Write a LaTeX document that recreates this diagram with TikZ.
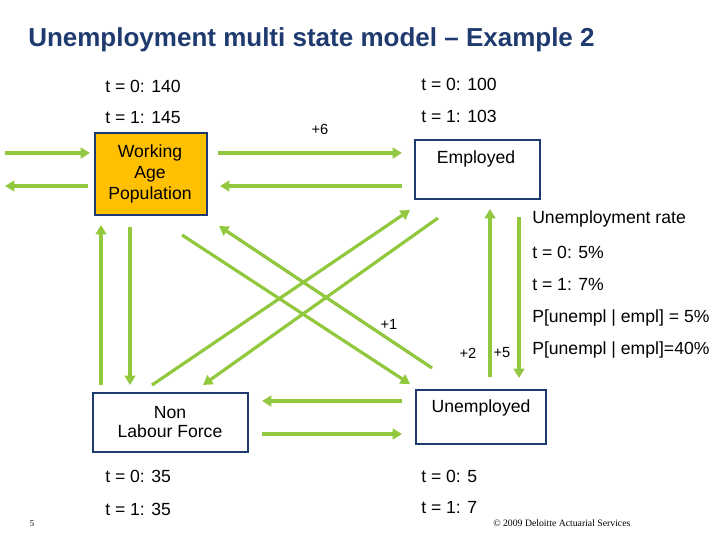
\documentclass[tikz,border=0pt]{standalone}
\usepackage{fontspec}
\setmainfont{Liberation Sans}
\newfontfamily\serifit{Liberation Serif}
\usetikzlibrary{arrows.meta}
\definecolor{navy}{HTML}{1F3A6E}
\definecolor{grn}{HTML}{92C83E}
\definecolor{orng}{HTML}{FFC000}
\begin{document}
\begin{tikzpicture}[x=0.75pt,y=-0.75pt,
  box/.style={draw=navy,line width=2pt},
  arr/.style={draw=grn,line width=2.4pt,-{Triangle[length=7pt,width=8pt]}},
  txt/.style={font=\fontsize{13.2}{15}\selectfont,anchor=west,inner sep=0pt},
  lbl/.style={font=\fontsize{13.2}{15}\selectfont,inner sep=0pt}]
\useasboundingbox (0,0) rectangle (720,540);
\node[anchor=west,inner sep=0pt,text=navy,font=\fontsize{19.5}{22}\bfseries\selectfont] (title) at (28,40) {Unemployment multi state model -- Example 2};
% boxes
\draw[box,fill=orng] (95,133) rectangle (207,215);
\node[lbl,align=center,font=\fontsize{13.2}{11}\selectfont] (wap) at (150,174) {Working\\[3pt]Age\\[3pt]Population};
\draw[box] (415,140) rectangle (540,199);
\node[lbl] (emp) at (476,159) {Employed};
\draw[box] (93,393) rectangle (248,452);
\node[lbl,align=center,font=\fontsize{13.2}{11}\selectfont] (nlf) at (170,422) {Non\\[3pt]Labour Force};
\draw[box] (416,390) rectangle (546,444);
\node[lbl] (une) at (481,408) {Unemployed};
% coordinates
\coordinate (a1) at (5,153); \coordinate (a2) at (90,153);
\coordinate (b1) at (88,186); \coordinate (b2) at (5,186);
\coordinate (c1) at (218,153); \coordinate (c2) at (402,153);
\coordinate (d1) at (402,186); \coordinate (d2) at (220,186);
\coordinate (e1) at (101,385); \coordinate (e2) at (101,225);
\coordinate (f1) at (130,227); \coordinate (f2) at (130,385);
\coordinate (g1) at (490,377); \coordinate (g2) at (490,209);
\coordinate (h1) at (519,217); \coordinate (h2) at (519,378);
\coordinate (i1) at (402,401); \coordinate (i2) at (262,401);
\coordinate (j1) at (262,434); \coordinate (j2) at (402,434);
\coordinate (k1) at (152,385); \coordinate (k2) at (410,210);
\coordinate (l1) at (438,218); \coordinate (l2) at (203,385);
\coordinate (m1) at (182,235); \coordinate (m2) at (410,384);
\coordinate (n1) at (432,368); \coordinate (n2) at (219,226);
\foreach \p in {a,b,c,d,e,f,g,h,i,j,k,l,m,n} \draw[arr] (\p1) -- (\p2);
% labels
\node[lbl,font=\fontsize{11}{13}\selectfont] (p6) at (320,129) {+6};
\node[lbl,font=\fontsize{11}{13}\selectfont] (p1) at (389,324) {+1};
\node[lbl,font=\fontsize{11}{13}\selectfont] (p2) at (468,353) {+2};
\node[lbl,font=\fontsize{11}{13}\selectfont] (p5) at (502,353) {+5};
\node[txt] (ur) at (532,219) {Unemployment rate};
\node[txt] (u0) at (532,252) {t = 0: 5\%};
\node[txt] (u1) at (532,284) {t = 1: 7\%};
\node[txt] (pa) at (532,318) {P[unempl | empl] = 5\%};
\node[txt] (pb) at (532,350) {P[unempl | empl]=40\%};
\node[txt] (w0) at (105,86) {t = 0: 140};
\node[txt] (w1) at (105,118) {t = 1: 145};
\node[txt] (e0) at (421,84) {t = 0: 100};
\node[txt] (e1t) at (421,116) {t = 1: 103};
\node[txt] (n0) at (105,476) {t = 0: 35};
\node[txt] (n1t) at (105,509) {t = 1: 35};
\node[txt] (q0) at (421,476) {t = 0: 5};
\node[txt] (q1) at (421,508) {t = 1: 7};
\node[inner sep=0pt,font=\serifit\fontsize{6.5}{7}\selectfont] (pg) at (32,524) {5};
\node[anchor=west,inner sep=0pt,font=\serifit\fontsize{7.3}{8}\selectfont] (copy) at (493,523) {\textcopyright{} 2009 Deloitte Actuarial Services};
\end{tikzpicture}
\end{document}
